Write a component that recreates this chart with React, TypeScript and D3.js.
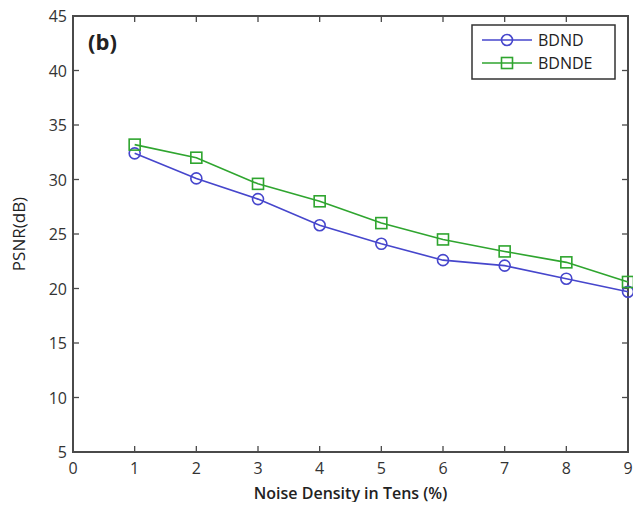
import React, { useEffect, useRef } from 'react';
import * as d3 from 'd3';

const noiseDensity = [1, 2, 3, 4, 5, 6, 7, 8, 9];
const bdnd = [32.4, 30.1, 28.2, 25.8, 24.1, 22.6, 22.1, 20.9, 19.7];
const bdnde = [33.2, 32.0, 29.6, 28.0, 26.0, 24.5, 23.4, 22.4, 20.6];
const xTicks = [0, 1, 2, 3, 4, 5, 6, 7, 8, 9];
const yTicks = [5, 10, 15, 20, 25, 30, 35, 40, 45];
const seriesNames = ['BDND', 'BDNDE'];

const W = 641;
const H = 510;
const margin = { top: 16, right: 13, bottom: 58, left: 73 };
const blue = '#4646cc';
const green = '#2fa52f';
const axisColor = '#4a4a4a';
const font = '"Open Sans", "DejaVu Sans", sans-serif';

const App = () => {
  const ref = useRef<SVGSVGElement>(null);

  useEffect(() => {
    const svg = d3.select(ref.current);
    svg.selectAll('*').remove();

    const x = d3.scaleLinear().domain([0, 9]).range([margin.left, W - margin.right]);
    const y = d3.scaleLinear().domain([5, 45]).range([H - margin.bottom, margin.top]);
    const x0 = x.range()[0], x1 = x.range()[1];
    const y0 = y.range()[0], y1 = y.range()[1];
    const tick = 6;

    const g = svg.append('g');

    // ticks inside the box, on all four sides
    xTicks.forEach(t => {
      g.append('line').attr('x1', x(t)).attr('x2', x(t)).attr('y1', y0).attr('y2', y0 - tick)
        .attr('stroke', axisColor).attr('stroke-width', 1.3);
      g.append('line').attr('x1', x(t)).attr('x2', x(t)).attr('y1', y1).attr('y2', y1 + tick)
        .attr('stroke', axisColor).attr('stroke-width', 1.3);
      g.append('text').attr('x', x(t)).attr('y', y0 + 22).attr('text-anchor', 'middle')
        .attr('font-family', font).attr('font-size', 16).attr('fill', '#333').text(t);
    });
    yTicks.forEach(t => {
      g.append('line').attr('x1', x0).attr('x2', x0 + tick).attr('y1', y(t)).attr('y2', y(t))
        .attr('stroke', axisColor).attr('stroke-width', 1.3);
      g.append('line').attr('x1', x1).attr('x2', x1 - tick).attr('y1', y(t)).attr('y2', y(t))
        .attr('stroke', axisColor).attr('stroke-width', 1.3);
      g.append('text').attr('x', x0 - 6).attr('y', y(t) + 6).attr('text-anchor', 'end')
        .attr('font-family', font).attr('font-size', 16).attr('fill', '#333').text(t);
    });

    g.append('rect').attr('x', x0).attr('y', y1).attr('width', x1 - x0).attr('height', y0 - y1)
      .attr('fill', 'none').attr('stroke', axisColor).attr('stroke-width', 2);

    const line = d3.line<number>().x((d, i) => x(noiseDensity[i])).y(d => y(d));

    g.append('path').datum(bdnd).attr('d', line).attr('fill', 'none')
      .attr('stroke', blue).attr('stroke-width', 1.6);
    g.append('path').datum(bdnde).attr('d', line).attr('fill', 'none')
      .attr('stroke', green).attr('stroke-width', 1.6);

    g.selectAll('.c').data(bdnd).enter().append('circle')
      .attr('cx', (d, i) => x(noiseDensity[i])).attr('cy', d => y(d)).attr('r', 5.5)
      .attr('fill', 'none').attr('stroke', blue).attr('stroke-width', 1.6);
    g.selectAll('.s').data(bdnde).enter().append('rect')
      .attr('x', (d, i) => x(noiseDensity[i]) - 5.5).attr('y', d => y(d) - 5.5)
      .attr('width', 11).attr('height', 11)
      .attr('fill', 'none').attr('stroke', green).attr('stroke-width', 1.6);

    // legend
    const lg = g.append('g');
    lg.append('rect').attr('x', 472).attr('y', 25).attr('width', 143).attr('height', 54)
      .attr('fill', '#fff').attr('stroke', '#333').attr('stroke-width', 1.5);
    seriesNames.forEach((name, i) => {
      const ly = 40 + i * 23;
      const col = i === 0 ? blue : green;
      lg.append('line').attr('x1', 482).attr('x2', 532).attr('y1', ly).attr('y2', ly)
        .attr('stroke', col).attr('stroke-width', 1.6);
      if (i === 0) {
        lg.append('circle').attr('cx', 507).attr('cy', ly).attr('r', 5.5)
          .attr('fill', 'none').attr('stroke', col).attr('stroke-width', 1.6);
      } else {
        lg.append('rect').attr('x', 501.5).attr('y', ly - 5.5).attr('width', 11).attr('height', 11)
          .attr('fill', 'none').attr('stroke', col).attr('stroke-width', 1.6);
      }
      lg.append('text').attr('x', 538).attr('y', ly + 6).attr('font-family', font)
        .attr('font-size', 16).attr('fill', '#222').text(name);
    });

    g.append('text').attr('x', 88).attr('y', 50).attr('font-family', font)
      .attr('font-weight', 'bold').attr('font-size', 22).attr('fill', '#222').text('(b)');

    g.append('text').attr('x', (x0 + x1) / 2).attr('y', 499).attr('text-anchor', 'middle')
      .attr('font-family', font).attr('font-weight', 600).attr('font-size', 16).attr('fill', '#222')
      .text('Noise Density in Tens (%)');

    g.append('text').attr('transform', `translate(25,${(y0 + y1) / 2}) rotate(-90)`)
      .attr('text-anchor', 'middle').attr('font-family', font).attr('font-size', 17)
      .attr('fill', '#222').text('PSNR(dB)');
  }, []);

  return <svg ref={ref} width={W} height={H} style={{ display: 'block', margin: -8 }} />;
};

export default App;
